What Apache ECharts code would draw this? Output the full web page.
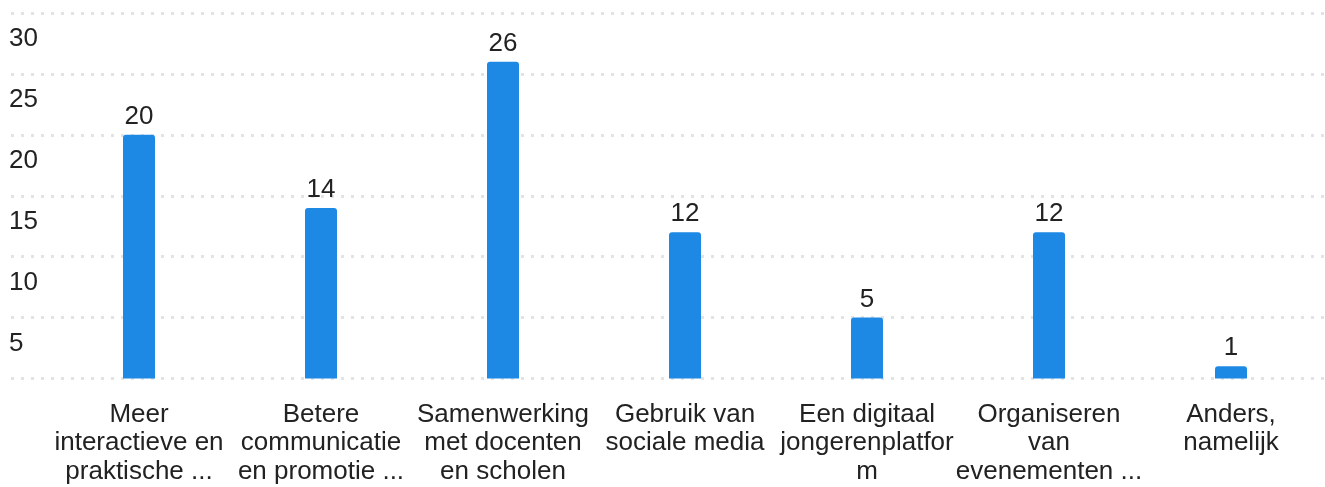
<!DOCTYPE html>
<html>
<head>
<meta charset="utf-8">
<script src="https://cdn.jsdelivr.net/npm/echarts@6/dist/echarts.min.js"></script>
<style>
html,body{margin:0;padding:0;background:#fff;}
#c{width:1325px;height:487px;}
</style>
</head>
<body>
<div id="c"></div>
<script>
const categories = [
  "Meer\ninteractieve en\npraktische ...",
  "Betere\ncommunicatie\nen promotie ...",
  "Samenwerking\nmet docenten\nen scholen",
  "Gebruik van\nsociale media",
  "Een digitaal\njongerenplatfor\nm",
  "Organiseren\nvan\nevenementen ...",
  "Anders,\nnamelijk"
];
const values = [20, 14, 26, 12, 5, 12, 1];
const yMin = 0, yMax = 30, yStep = 5;

const FONT = '"Liberation Sans", Arial, sans-serif';
const TXT = '#222';
const chart = echarts.init(document.getElementById('c'), null, {renderer: 'canvas'});
chart.setOption({
  animation: false,
  grid: [
    {left: 11, right: 0, top: 13, bottom: 108.5},
    {left: 48, right: 3, top: 13, bottom: 108.5}
  ],
  xAxis: [
    {gridIndex: 0, type: 'value', show: false},
    {
      gridIndex: 1, type: 'category', data: categories,
      axisLine: {show: false}, axisTick: {show: false},
      axisLabel: {
        interval: 0, margin: 22, color: TXT, fontFamily: FONT,
        fontSize: 26, lineHeight: 28.5, align: 'center', verticalAlign: 'top'
      }
    }
  ],
  yAxis: [
    {
      gridIndex: 0, type: 'value', min: yMin, max: yMax, interval: yStep,
      axisLine: {show: false}, axisTick: {show: false},
      splitLine: {show: true, lineStyle: {color: '#e3e3e3', width: 3, type: [3, 7]}},
      axisLabel: {
        inside: true, margin: -2, showMinLabel: false,
        color: TXT, fontFamily: FONT, fontSize: 26, lineHeight: 26,
        align: 'left', verticalAlign: 'top', padding: [13, 0, 0, 0]
      }
    },
    {
      gridIndex: 1, type: 'value', min: yMin, max: yMax, interval: yStep, show: false
    }
  ],
  series: [{
    type: 'bar', xAxisIndex: 1, yAxisIndex: 1, data: values,
    barWidth: 32,
    itemStyle: {color: '#1e88e5', borderRadius: [3, 3, 0, 0]},
    label: {
      show: true, position: 'top', distance: 5, color: TXT,
      fontFamily: FONT, fontSize: 26
    }
  }]
});
</script>
</body>
</html>
